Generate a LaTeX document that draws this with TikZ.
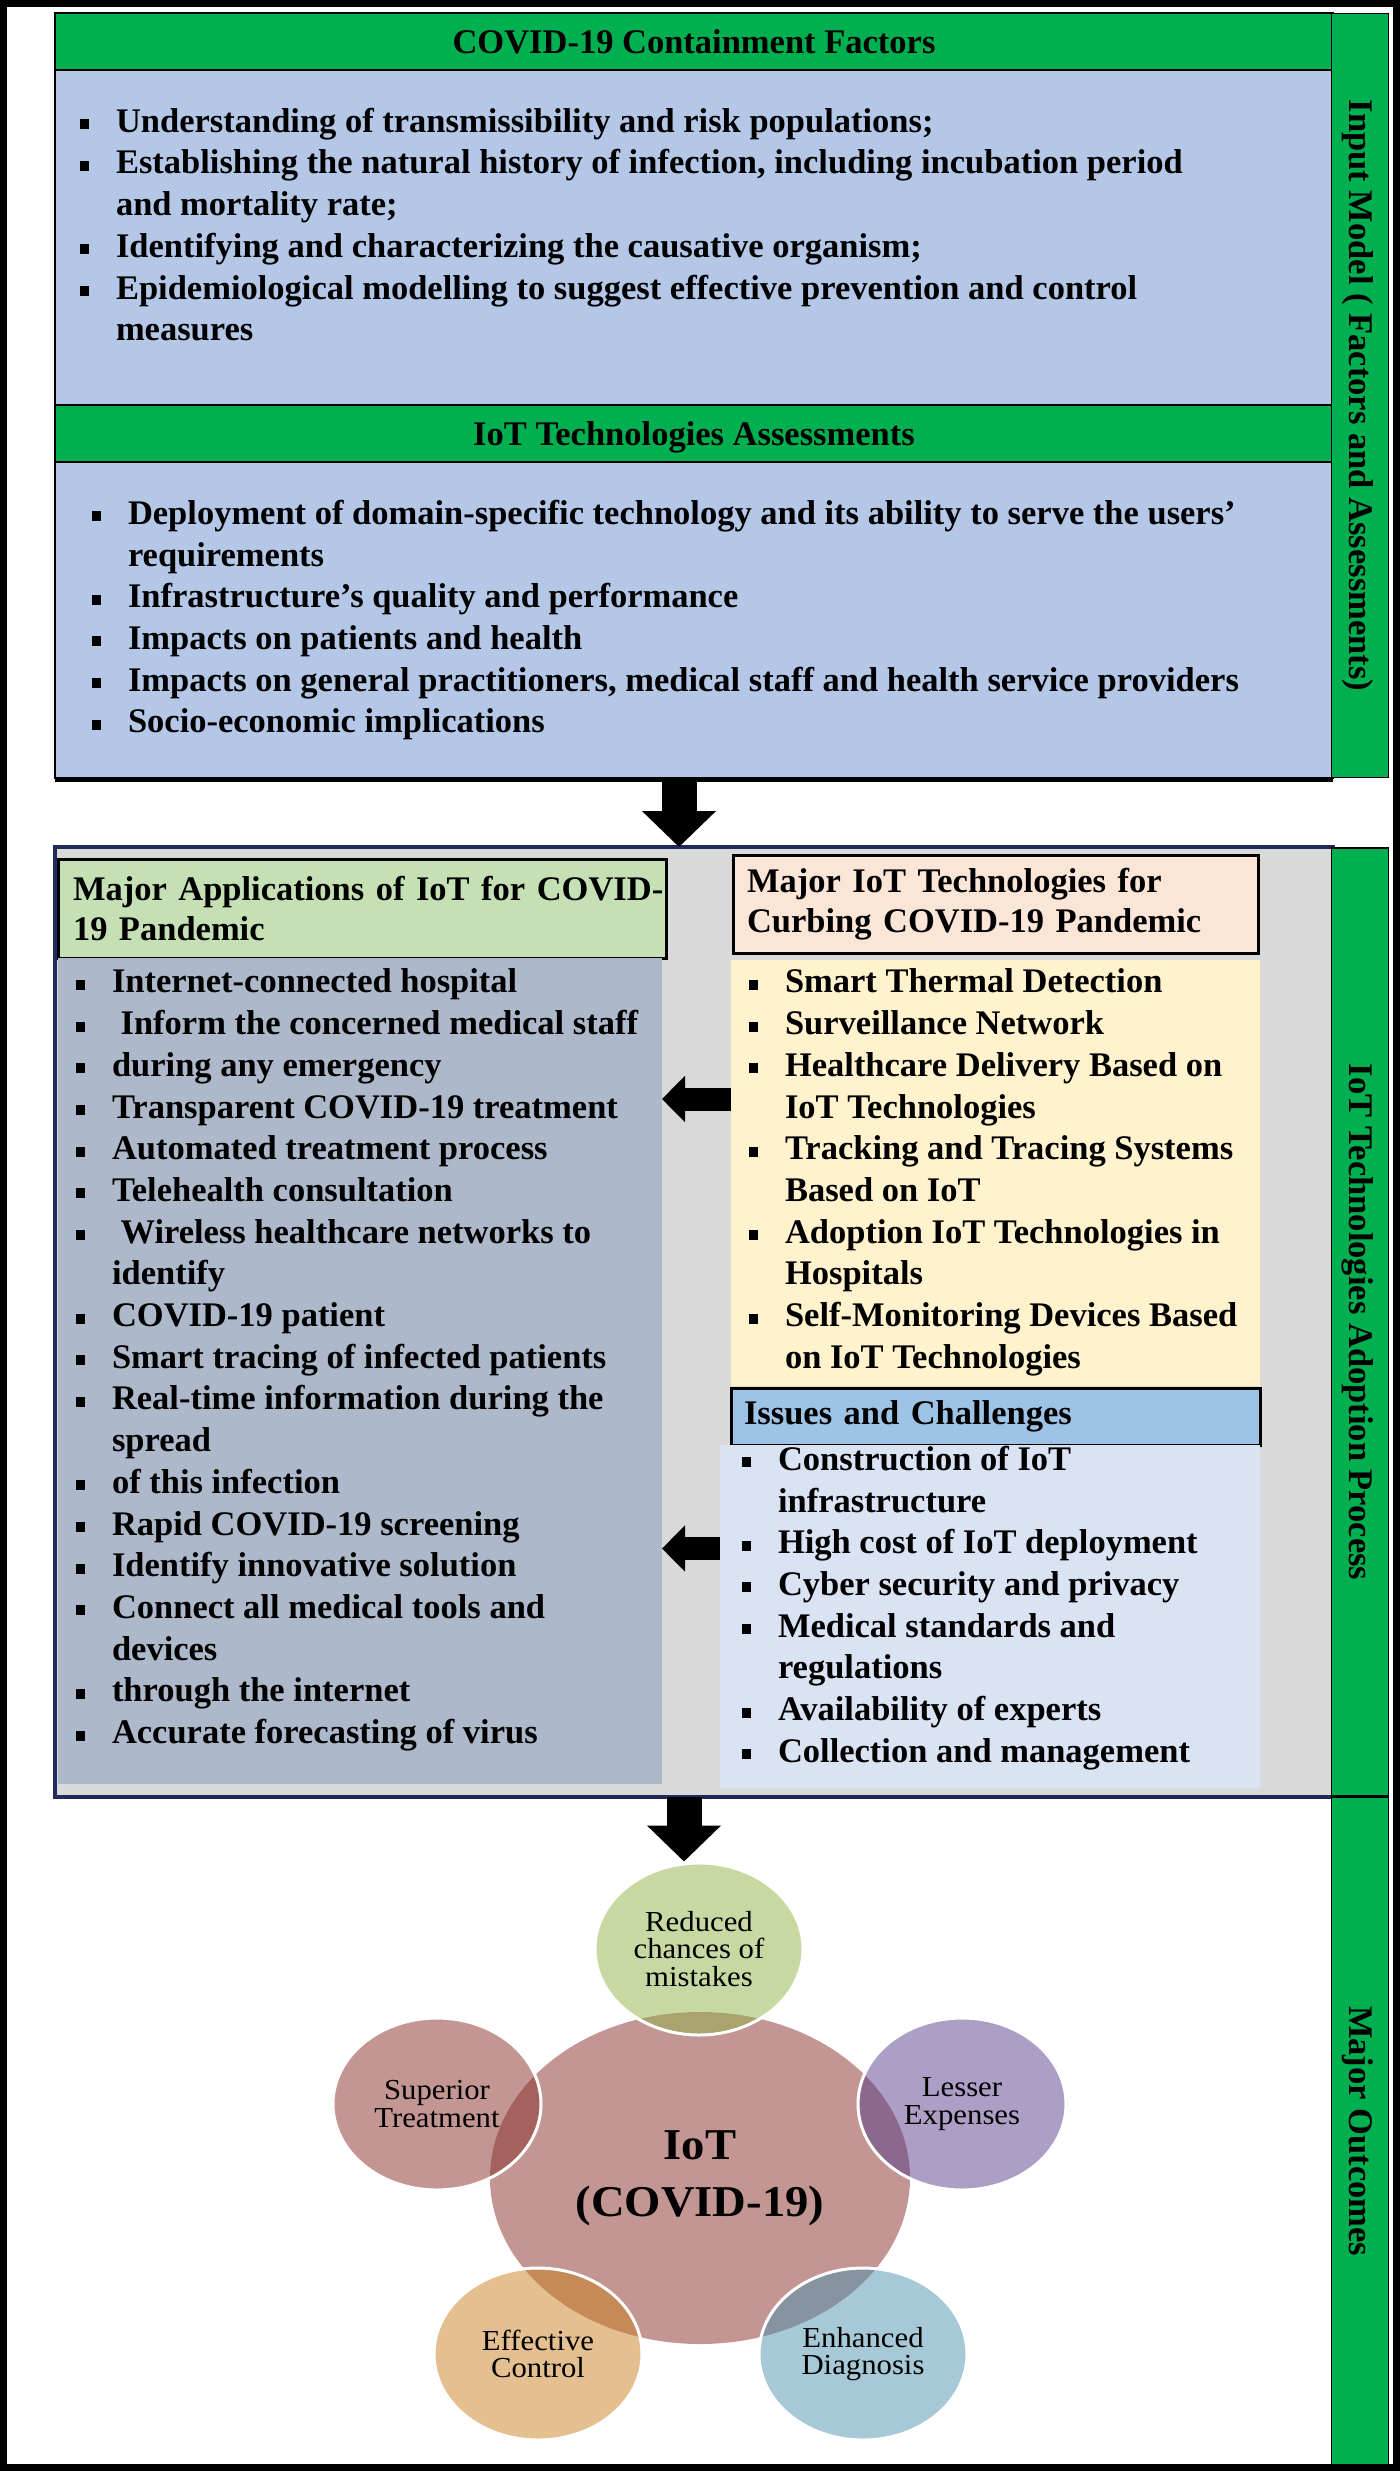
\documentclass[tikz,border=0pt]{standalone}
\usepackage{fontspec}
\setmainfont{Liberation Serif}
\newfontfamily\leaffont[FakeStretch=1.06]{Liberation Serif}
\newfontfamily\hubfont[FakeStretch=1.06]{Liberation Serif}
\usepackage{tikz}
\usetikzlibrary{arrows.meta,positioning,calc,shapes.geometric}
\usepackage{xcolor}
\definecolor{hdrGreen}{HTML}{00B050}
\definecolor{bodyBlue}{HTML}{B4C7E7}
\definecolor{midGray}{HTML}{D9D9D9}
\definecolor{navy}{HTML}{22295C}
\definecolor{appGreen}{HTML}{C5E0B4}
\definecolor{appSlate}{HTML}{ADB9CA}
\definecolor{techPeach}{HTML}{FBE5D6}
\definecolor{techCream}{HTML}{FFF2CC}
\definecolor{issBlue}{HTML}{9DC3E6}
\definecolor{issPale}{HTML}{DAE3F3}
\definecolor{hubRose}{RGB}{135,45,41}
\definecolor{leafOlive}{RGB}{145,177,71}
\definecolor{leafPlum}{RGB}{89,61,137}
\definecolor{leafTeal}{RGB}{77,145,175}
\definecolor{leafAmber}{RGB}{201,127,33}
% square bullet and indented follow-on line
\newcommand{\lstrut}{\rule[-10pt]{0pt}{28pt}}
\newcommand{\sqb}{\lstrut\makebox[36pt][l]{\raisebox{3pt}{\rule{9pt}{10pt}}}}
\newcommand{\cont}{\lstrut\hspace*{36pt}}

\begin{document}
\begin{tikzpicture}[x=1pt, y=-1pt, node distance=0pt,
    hdr/.style={draw=black, line width=2pt, fill=hdrGreen, minimum width=1278pt, minimum height=57pt, inner sep=0pt, outer sep=0pt, font=\bfseries\fontsize{34.5}{40}\selectfont, text height=24pt, text depth=0pt},
    body/.style={draw=black, line width=2pt, fill=bodyBlue, minimum width=1278pt, inner sep=0pt, outer sep=0pt},
    items/.style={inner sep=0pt, outer sep=0pt, anchor=north west, align=left, font=\bfseries\fontsize{34.5}{41.7}\selectfont},
    fillbox/.style={inner sep=0pt, outer sep=0pt},
    capbox/.style={draw=black, line width=3pt, inner sep=0pt, outer sep=0pt, align=left, font=\bfseries\fontsize{34.5}{40}\selectfont},
    sidebar/.style={draw=black, line width=1.5pt, fill=hdrGreen, rotate=-90, minimum height=57pt, inner sep=0pt, font=\bfseries\fontsize{34.5}{38}\selectfont, text height=22pt, text depth=0pt},
    bigdown/.style={line width=35pt, -{Triangle[length=36pt, width=72pt]}},
    bigleft/.style={line width=23pt, -{Triangle[length=23pt, width=45pt]}},
    leaf/.style={ellipse, minimum width=208pt, minimum height=172pt, inner sep=0pt, fill opacity=0.5, text opacity=1, draw=white, draw opacity=1, line width=3pt, align=center, font=\leaffont\fontsize{29}{27.5}\selectfont},
    hub/.style={ellipse, minimum width=420pt, minimum height=332pt, inner sep=0pt, fill=hubRose, fill opacity=0.5, text opacity=1, align=center, font=\hubfont\bfseries\fontsize{44}{57}\selectfont}]
  \useasboundingbox (0,0) rectangle (1400,2471);
  \draw[line width=7pt] (3.5,3.5) rectangle (1396.5,2467.5);

  % input model
  \node[hdr, anchor=north west] (cfhead) at (55,13) {COVID-19 Containment Factors};
  \node[body, minimum height=335pt, below=0pt of cfhead] (cfbody) {};
  \node[hdr, below=0pt of cfbody] (ithead) {IoT Technologies Assessments};
  \node[body, minimum height=316pt, below=0pt of ithead] (itbody) {};
  \draw[line width=5pt] ([yshift=-1.5pt]itbody.south west) -- ([yshift=-1.5pt]itbody.south east);
  \node[items] (cflines) at ([xshift=25pt, yshift=-38pt]cfbody.north west) {%
    \sqb Understanding of transmissibility and risk populations;\\
    \sqb Establishing the natural history of infection, including incubation period\\
    \cont and mortality rate;\\
    \sqb Identifying and characterizing the causative organism;\\
    \sqb Epidemiological modelling to suggest effective prevention and control\\
    \cont measures};
  \node[items] (itlines) at ([xshift=37pt, yshift=-38pt]itbody.north west) {%
    \sqb Deployment of domain-specific technology and its ability to serve the users’\\
    \cont requirements\\
    \sqb Infrastructure’s quality and performance\\
    \sqb Impacts on patients and health\\
    \sqb Impacts on general practitioners, medical staff and health service providers\\
    \sqb Socio-economic implications};

  % adoption process
  \node[draw=navy, line width=4pt, fill=midGray, minimum width=1278pt, minimum height=950pt, inner sep=0pt, outer sep=0pt, below=69pt of itbody] (midbox) {};
  \node[capbox, fill=appGreen, minimum width=608pt, minimum height=99pt, text width=578pt, anchor=north west] (apphead) at ([xshift=3pt, yshift=-12pt]midbox.north west) {\mbox{Major Applications of IoT for COVID-}\\19 Pandemic};
  \node[fillbox, fill=appSlate, minimum width=604pt, minimum height=826pt, anchor=north west] (applist) at (apphead.south west) {};
  \node[capbox, fill=techPeach, minimum width=525pt, minimum height=98pt, text width=497pt, right=67pt of apphead, yshift=4.5pt] (techhead) {Major IoT Technologies for\\Curbing COVID-19 Pandemic};
  \node[fillbox, fill=techCream, minimum width=529pt, minimum height=426pt, below=7pt of techhead] (techlist) {};
  \node[capbox, fill=issBlue, minimum width=529pt, minimum height=57pt, text width=503pt, below=2pt of techlist] (isshead) {Issues and Challenges};
  \node[fillbox, fill=issPale, minimum width=540pt, minimum height=343pt, anchor=north east] (isslist) at (isshead.south east) {};

  \node[items] (applines) at ([xshift=18pt, yshift=-11pt]applist.north west) {%
    \sqb Internet-connected hospital\\
    \sqb\ Inform the concerned medical staff\\
    \sqb during any emergency\\
    \sqb Transparent COVID-19 treatment\\
    \sqb Automated treatment process\\
    \sqb Telehealth consultation\\
    \sqb\ Wireless healthcare networks to\\
    \cont identify\\
    \sqb COVID-19 patient\\
    \sqb Smart tracing of infected patients\\
    \sqb Real-time information during the\\
    \cont spread\\
    \sqb of this infection\\
    \sqb Rapid COVID-19 screening\\
    \sqb Identify innovative solution\\
    \sqb Connect all medical tools and\\
    \cont devices\\
    \sqb through the internet\\
    \sqb Accurate forecasting of virus};
  \node[items] (techlines) at ([xshift=18pt, yshift=-9pt]techlist.north west) {%
    \sqb Smart Thermal Detection\\
    \sqb Surveillance Network\\
    \sqb Healthcare Delivery Based on\\
    \cont IoT Technologies\\
    \sqb Tracking and Tracing Systems\\
    \cont Based on IoT\\
    \sqb Adoption IoT Technologies in\\
    \cont Hospitals\\
    \sqb Self-Monitoring Devices Based\\
    \cont on IoT Technologies};
  \node[items] (isslines) at ([xshift=22pt, yshift=-1pt]isslist.north west) {%
    \sqb Construction of IoT\\
    \cont infrastructure\\
    \sqb High cost of IoT deployment\\
    \sqb Cyber security and privacy\\
    \sqb Medical standards and\\
    \cont regulations\\
    \sqb Availability of experts\\
    \sqb Collection and management};

  % side labels
  \node[sidebar, minimum width=764pt] (sideA) at ($(cfhead.north east)!0.5!(itbody.south east)+(27pt,0)$) {Input Model ( Factors and Assessments)};
  \node[sidebar, minimum width=948pt] (sideB) at ($(midbox.north east)!0.5!(midbox.south east)+(27pt,0)$) {IoT Technologies Adoption Process};
  \node[sidebar, minimum width=667pt] (sideC) at (1360,2131) {Major Outcomes};

  % outcomes
  \node[hub] (hub) at (700,2178) {IoT\\(COVID-19)};
  \node[leaf, fill=leafOlive] (mistakes) at (699,1949) {Reduced\\chances of\\mistakes};
  \node[leaf, fill=hubRose] (superior) at (437,2104) {Superior\\Treatment};
  \node[leaf, fill=leafPlum] (lesser) at (962,2104) {Lesser\\Expenses};
  \node[leaf, fill=leafAmber] (effective) at (538,2354) {Effective\\Control};
  \node[leaf, fill=leafTeal] (enhanced) at (863,2354) {Enhanced\\Diagnosis};

  % block arrows
  \draw[bigdown] ([xshift=-15pt]itbody.south) -- ([xshift=-15pt]midbox.north);
  \draw[bigleft] ([yshift=74pt]techlist.west) -- ([yshift=74pt]techlist.west -| applist.east);
  \draw[bigleft] ([yshift=68pt]isslist.west) -- ([yshift=68pt]isslist.west -| applist.east);
  \draw[bigdown] ([xshift=-10pt]midbox.south) -- ([xshift=-15pt]mistakes.north);
\end{tikzpicture}
\end{document}
